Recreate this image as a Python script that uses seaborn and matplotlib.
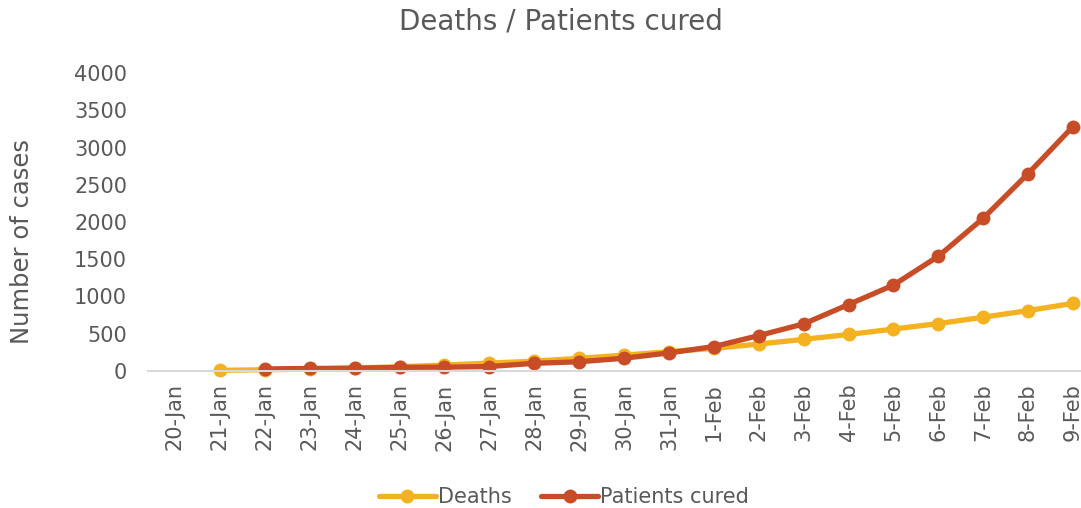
import numpy as np
import pandas as pd
import matplotlib
matplotlib.use("Agg")
import matplotlib.pyplot as plt
import seaborn as sns

dates = ["20-Jan", "21-Jan", "22-Jan", "23-Jan", "24-Jan", "25-Jan", "26-Jan",
         "27-Jan", "28-Jan", "29-Jan", "30-Jan", "31-Jan", "1-Feb", "2-Feb",
         "3-Feb", "4-Feb", "5-Feb", "6-Feb", "7-Feb", "8-Feb", "9-Feb"]
deaths = [np.nan, 9, 17, 25, 41, 56, 80, 106, 132, 170, 213, 259, 304, 361,
          425, 490, 563, 636, 722, 811, 908]
cured = [np.nan, np.nan, 28, 34, 38, 49, 51, 60, 103, 124, 171, 243, 328, 475,
         632, 892, 1153, 1540, 2050, 2649, 3281]
series_names = ["Deaths", "Patients cured"]
colors = ["#F4B120", "#C84C26"]
yticks = [0, 500, 1000, 1500, 2000, 2500, 3000, 3500, 4000]

sns.set_theme(style="white")
plt.rcParams["font.family"] = ["DejaVu Sans"]
text_color = "#595959"

W, H = 1081, 508
fig = plt.figure(figsize=(W / 100, H / 100), dpi=100)
x0, x1 = 148, 1081
y_top, y_bot = 73, 371
ax = fig.add_axes([x0 / W, 1 - y_bot / H, (x1 - x0) / W, (y_bot - y_top) / H])

df = pd.DataFrame({"pos": list(range(len(dates))) * 2,
                   "value": deaths + cured,
                   "series": [series_names[0]] * len(dates) + [series_names[1]] * len(dates)})

for name, col in zip(series_names, colors):
    sub = df[df["series"] == name].dropna()
    sns.lineplot(data=sub, x="pos", y="value", ax=ax, color=col, linewidth=3.8,
                 marker="o", markersize=10, markeredgewidth=0, label=name,
                 clip_on=False)

# x range: category spacing ~44.9 px, 20-Jan at x=175
step = (1073 - 175) / 20
left = -(175 - x0) / step
right = 20 + (x1 - 1073) / step
ax.set_xlim(left, right)
ax.set_ylim(0, 4000)

ax.set_xticks(range(len(dates)))
ax.set_xticklabels(dates, rotation=90, fontsize=15, color=text_color)
ax.set_yticks(yticks)
ax.set_yticklabels([str(v) for v in yticks], fontsize=15, color=text_color)
ax.tick_params(axis="x", length=0, pad=9)
ax.tick_params(axis="y", length=0, pad=15)
for s in ["top", "right", "left"]:
    ax.spines[s].set_visible(False)
ax.spines["bottom"].set_color("#D9D9D9")
ax.spines["bottom"].set_linewidth(1.5)
ax.grid(False)
ax.set_xlabel("")
ax.set_ylabel("")

fig.text(22 / W, 1 - 241 / H, "Number of cases", rotation=90, fontsize=17.5,
         color=text_color, ha="center", va="center")
fig.text(561 / W, 1 - 22 / H, "Deaths / Patients cured", fontsize=20,
         color=text_color, ha="center", va="center")

ax.get_legend().remove()
handles, labels = ax.get_legend_handles_labels()
leg = fig.legend(handles, labels, loc="center", bbox_to_anchor=(564 / W, 1 - 497 / H),
                 ncol=2, frameon=False, fontsize=15, handlelength=2.75,
                 handletextpad=0.1, columnspacing=1.4, labelcolor=text_color)

fig.savefig("out.png", dpi=100)
